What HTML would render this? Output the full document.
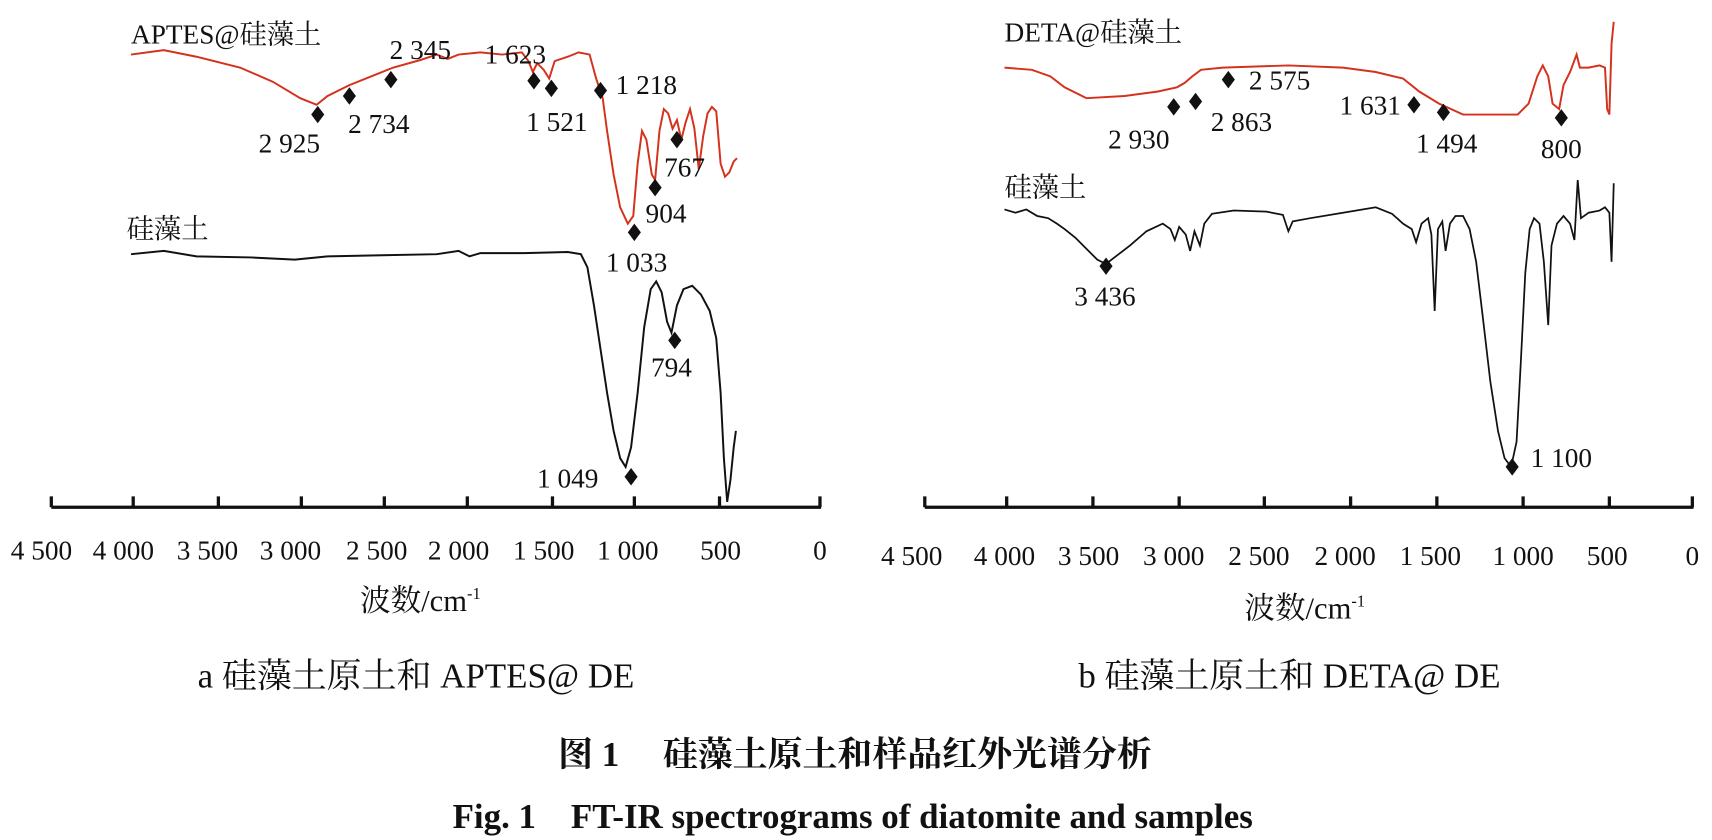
<!DOCTYPE html>
<html><head><meta charset="utf-8"><style>
html,body{margin:0;padding:0;background:#fff;}
svg{display:block;}
text{font-family:"Liberation Serif","Noto Serif CJK SC",serif;font-size:25px;fill:#111;}
.c{text-anchor:middle;}
.b{font-weight:bold;}
.cap{font-size:32px;}
.ax{font-size:28px;}
</style></head><body>
<svg width="1712" height="840" viewBox="0 0 1568 770" preserveAspectRatio="none" xmlns="http://www.w3.org/2000/svg">
<defs><path id="d" d="M0,-8 L6,0 L0,8 L-6,0Z" fill="#111"/></defs>
<g stroke="#111" stroke-width="3" fill="none">
<line x1="47" y1="465" x2="752" y2="465"/>
<path d="M47,465v-10M122,465v-10M200,465v-10M276,465v-10M352,465v-10M428,465v-10M506,465v-10M581,465v-10M659,465v-10M751,465v-10"/>
<line x1="847" y1="465" x2="1551" y2="465"/>
<path d="M847,465v-10M922,465v-10M1001,465v-10M1080,465v-10M1158,465v-10M1237,465v-10M1316,465v-10M1395,465v-10M1474,465v-10M1550,465v-10"/>
</g>
<g>
<text x="38" y="513" class="c">4 500</text><text x="113" y="513" class="c">4 000</text><text x="190" y="513" class="c">3 500</text><text x="266" y="513" class="c">3 000</text><text x="345" y="513" class="c">2 500</text><text x="420" y="513" class="c">2 000</text><text x="498" y="513" class="c">1 500</text><text x="575" y="513" class="c">1 000</text><text x="660" y="513" class="c">500</text><text x="751" y="513" class="c">0</text>
<text x="835" y="518" class="c">4 500</text><text x="920" y="518" class="c">4 000</text><text x="997" y="518" class="c">3 500</text><text x="1075" y="518" class="c">3 000</text><text x="1153" y="518" class="c">2 500</text><text x="1232" y="518" class="c">2 000</text><text x="1310" y="518" class="c">1 500</text><text x="1395" y="518" class="c">1 000</text><text x="1472" y="518" class="c">500</text><text x="1550" y="518" class="c">0</text>
</g>
<text x="385" y="560" class="c ax">波数/cm<tspan font-size="15" dy="-11">-1</tspan></text>
<text x="1195" y="567" class="c ax">波数/cm<tspan font-size="15" dy="-11">-1</tspan></text>
<text x="381" y="630" class="c cap">a 硅藻土原土和 APTES@ DE</text>
<text x="1181" y="630" class="c cap">b 硅藻土原土和 DETA@ DE</text>
<text x="783" y="702" class="c b cap">图 1　 硅藻土原土和样品红外光谱分析</text>
<text x="781" y="759" class="c b cap">Fig. 1　FT-IR spectrograms of diatomite and samples</text>

<path fill="none" stroke="#d4321c" stroke-width="1.8" d="M120,50 L150,46 L180,52 L220,62 L250,75 L275,90 L290,96 L300,88 L320,78 L345,68 L360,62 L385,55 L400,50 L410,54 L420,50 L440,48 L460,50 L478,48 L484,56 L488,66 L492,58 L498,64 L503,72 L508,56 L520,52 L530,48 L540,50 L546,72 L552,90 L556,120 L562,160 L568,190 L575,205 L580,198 L584,150 L588,120 L592,128 L597,160 L600,165 L604,120 L608,100 L612,104 L616,118 L620,110 L624,128 L628,112 L632,100 L636,118 L640,155 L644,125 L648,104 L652,98 L656,102 L660,150 L664,162 L668,158 L672,148 L675,145"/>
<path fill="none" stroke="#111" stroke-width="1.8" d="M120,233 L150,230 L180,235 L230,236 L270,238 L300,235 L350,234 L400,233 L420,230 L430,235 L440,232 L480,232 L520,231 L532,233 L538,245 L544,280 L550,320 L556,360 L562,395 L568,420 L573,428 L578,410 L584,360 L590,300 L596,265 L601,258 L606,268 L611,295 L615,305 L620,280 L626,265 L634,262 L642,270 L650,285 L656,310 L660,360 L663,420 L666,460 L669,440 L672,410 L674,395"/>
<path fill="none" stroke="#d4321c" stroke-width="1.8" d="M920,62 L945,64 L962,70 L975,80 L995,90 L1030,88 L1060,84 L1078,80 L1085,76 L1092,70 L1100,64 L1120,62 L1180,60 L1230,62 L1260,66 L1285,72 L1300,84 L1318,95 L1340,105 L1390,105 L1400,95 L1408,70 L1413,60 L1418,70 L1422,95 L1428,100 L1432,78 L1438,66 L1444,50 L1447,62 L1455,62 L1465,60 L1470,62 L1472,100 L1474,105 L1476,40 L1478,20"/>
<path fill="none" stroke="#111" stroke-width="1.6" d="M920,192 L930,195 L940,192 L950,198 L960,200 L968,205 L975,210 L985,218 L995,228 L1005,238 L1013,242 L1022,235 L1035,225 L1050,212 L1065,205 L1072,210 L1076,220 L1080,208 L1086,215 L1090,230 L1094,212 L1099,225 L1103,205 L1110,196 L1130,193 L1160,194 L1175,197 L1180,212 L1184,203 L1200,200 L1230,195 L1260,190 L1275,196 L1285,205 L1293,210 L1297,222 L1302,205 L1308,200 L1311,215 L1314,285 L1317,210 L1321,203 L1324,230 L1328,205 L1333,198 L1340,198 L1346,210 L1352,240 L1358,290 L1365,350 L1372,395 L1378,420 L1384,428 L1389,405 L1393,330 L1397,250 L1401,210 L1405,200 L1410,205 L1414,240 L1418,298 L1421,225 L1426,205 L1432,198 L1438,205 L1442,220 L1445,165 L1448,200 L1455,195 L1465,193 L1470,190 L1474,195 L1476,240 L1478,168"/>

<text x="120" y="40">APTES@硅藻土</text>
<text x="116" y="218">硅藻土</text>
<text x="920" y="38">DETA@硅藻土</text>
<text x="920" y="180">硅藻土</text>

<use href="#d" x="291" y="105"/><text x="265" y="140" class="c">2 925</text>
<use href="#d" x="320" y="88"/><text x="347" y="122" class="c">2 734</text>
<use href="#d" x="358" y="73"/><text x="385" y="54" class="c">2 345</text>
<use href="#d" x="489" y="74"/><text x="472" y="58" class="c">1 623</text>
<use href="#d" x="505" y="81"/><text x="510" y="120" class="c">1 521</text>
<use href="#d" x="550" y="83"/><text x="592" y="86" class="c">1 218</text>
<use href="#d" x="620" y="128"/><text x="627" y="162" class="c">767</text>
<use href="#d" x="600" y="172"/><text x="610" y="204" class="c">904</text>
<use href="#d" x="581" y="213"/><text x="583" y="249" class="c">1 033</text>
<use href="#d" x="618" y="312"/><text x="615" y="345" class="c">794</text>
<use href="#d" x="578" y="437"/><text x="520" y="447" class="c">1 049</text>

<use href="#d" x="1075" y="98"/><text x="1043" y="136" class="c">2 930</text>
<use href="#d" x="1095" y="93"/><text x="1137" y="120" class="c">2 863</text>
<use href="#d" x="1125" y="73"/><text x="1172" y="82" class="c">2 575</text>
<use href="#d" x="1295" y="96"/><text x="1255" y="105" class="c">1 631</text>
<use href="#d" x="1322" y="103"/><text x="1325" y="140" class="c">1 494</text>
<use href="#d" x="1430" y="108"/><text x="1430" y="145" class="c">800</text>
<use href="#d" x="1013" y="244"/><text x="1012" y="280" class="c">3 436</text>
<use href="#d" x="1385" y="428"/><text x="1430" y="428" class="c">1 100</text>
</svg>
</body></html>
